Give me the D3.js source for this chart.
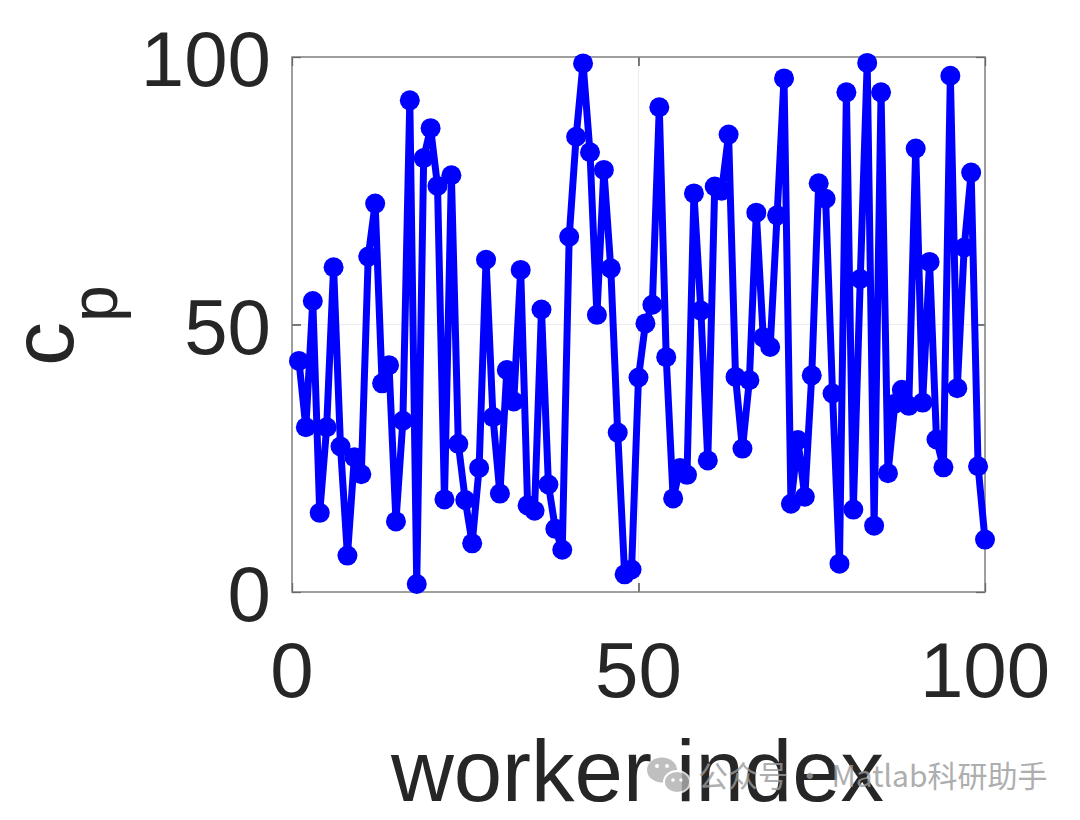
<!DOCTYPE html>
<html>
<head>
<meta charset="utf-8">
<script src="https://cdn.jsdelivr.net/npm/d3@7"></script>
<style>
  html, body { margin: 0; padding: 0; background: #ffffff; }
  svg { display: block; }
</style>
</head>
<body>
<svg id="chart" width="1080" height="820"></svg>
<script>
// ---- data ----
const workerIndex = d3.range(1, 101);
const cpValues = [
  43.2, 30.8, 54.4, 14.8, 30.8, 60.7, 27.2, 6.8, 25.2, 22.0,
  62.7, 72.6, 39.0, 42.4, 13.2, 32.0, 91.9, 1.5, 81.1, 86.7,
  75.9, 17.3, 77.9, 27.7, 17.2, 9.1, 23.2, 62.1, 32.7, 18.4,
  41.5, 35.6, 60.2, 16.2, 15.2, 52.8, 20.1, 11.8, 7.9, 66.4,
  85.1, 98.8, 82.2, 51.8, 78.9, 60.5, 29.8, 3.3, 4.2, 40.1,
  50.2, 53.7, 90.6, 43.9, 17.5, 23.2, 21.9, 74.5, 52.6, 24.6,
  75.8, 75.0, 85.5, 40.2, 26.8, 39.6, 70.9, 47.6, 45.8, 70.4,
  96.0, 16.5, 28.4, 17.8, 40.5, 76.4, 73.5, 37.1, 5.3, 93.4,
  15.4, 58.5, 98.9, 12.4, 93.4, 22.2, 35.2, 37.8, 34.8, 82.9,
  35.4, 61.7, 28.5, 23.3, 96.5, 38.1, 64.4, 78.4, 23.5, 9.8
];
const xTicks = [0, 50, 100];
const yTicks = [0, 50, 100];
const xLabel = "worker index";
const yLabelMain = "c";
const yLabelSub = "p";
const watermark = "公众号 · Matlab科研助手";

// ---- layout ----
const svg = d3.select("#chart");
const L = 292, R = 985, T = 57, B = 592;
const x = d3.scaleLinear().domain([0, 100]).range([L, R]);
const y = d3.scaleLinear().domain([0, 100]).range([B, T]);
const textColor = "#262626";
const font = "'Liberation Sans', Arial, Helvetica, sans-serif";

// faint grid
const g = svg.append("g");
g.selectAll(".gx").data(xTicks.filter(d => d > 0 && d < 100)).enter().append("line")
  .attr("x1", d => x(d)).attr("x2", d => x(d)).attr("y1", T).attr("y2", B)
  .attr("stroke", "#ececec").attr("stroke-width", 1);
g.selectAll(".gy").data(yTicks.filter(d => d > 0 && d < 100)).enter().append("line")
  .attr("y1", d => y(d)).attr("y2", d => y(d)).attr("x1", L).attr("x2", R)
  .attr("stroke", "#ececec").attr("stroke-width", 1);

// axes (ticks inside, no domain)
const xAxisB = d3.axisBottom(x).tickValues(xTicks).tickSize(-9).tickFormat("");
const xAxisT = d3.axisTop(x).tickValues(xTicks).tickSize(-9).tickFormat("");
const yAxisL = d3.axisLeft(y).tickValues(yTicks).tickSize(-9).tickFormat("");
const yAxisR = d3.axisRight(y).tickValues(yTicks).tickSize(-9).tickFormat("");
[[xAxisB, `translate(0,${B})`], [xAxisT, `translate(0,${T})`],
 [yAxisL, `translate(${L},0)`], [yAxisR, `translate(${R},0)`]].forEach(([ax, tr]) => {
  const a = svg.append("g").attr("transform", tr).call(ax);
  a.select(".domain").remove();
  a.selectAll("line").attr("stroke", textColor).attr("stroke-width", 1.2);
});

// box
svg.append("rect").attr("x", L).attr("y", T).attr("width", R - L).attr("height", B - T)
  .attr("fill", "none").attr("stroke", "#7f7f7f").attr("stroke-width", 1.5);

// tick labels
svg.selectAll(".xtl").data(xTicks).enter().append("text")
  .attr("x", d => x(d)).attr("y", 697)
  .attr("text-anchor", "middle")
  .attr("font-family", font).attr("font-size", 78).attr("fill", textColor)
  .text(d => d);
svg.selectAll(".ytl").data(yTicks).enter().append("text")
  .attr("x", 271).attr("y", d => y(d) + 29)
  .attr("text-anchor", "end")
  .attr("font-family", font).attr("font-size", 78).attr("fill", textColor)
  .text(d => d);

// data line + markers
const pts = workerIndex.map((w, i) => [w, cpValues[i]]);
const line = d3.line().x(d => x(d[0])).y(d => y(d[1]));
svg.append("path").datum(pts).attr("d", line)
  .attr("fill", "none").attr("stroke", "#0000ff").attr("stroke-width", 7)
  .attr("stroke-linejoin", "round");
svg.selectAll(".pt").data(pts).enter().append("circle")
  .attr("cx", d => x(d[0])).attr("cy", d => y(d[1])).attr("r", 10)
  .attr("fill", "#0000ff");

// x label
svg.append("text").attr("x", (L + R) / 2 - 1).attr("y", 801)
  .attr("text-anchor", "middle")
  .attr("font-family", font).attr("font-size", 87).attr("fill", textColor)
  .text(xLabel);

// y label (c_p) rotated
const yl = svg.append("text")
  .attr("transform", `translate(73,366) rotate(-90)`)
  .attr("font-family", font).attr("font-size", 88).attr("fill", textColor);
yl.append("tspan").text(yLabelMain);
yl.append("tspan").attr("font-size", 66).attr("dy", 44).text(yLabelSub);

// watermark
const wm = svg.append("g").attr("opacity", 0.8);
wm.append("ellipse").attr("cx", 662).attr("cy", 770).attr("rx", 15).attr("ry", 12.5).attr("fill", "#b0b0b0");
wm.append("circle").attr("cx", 657).attr("cy", 766).attr("r", 2).attr("fill", "#fff");
wm.append("circle").attr("cx", 667).attr("cy", 766).attr("r", 2).attr("fill", "#fff");
wm.append("ellipse").attr("cx", 677).attr("cy", 782).attr("rx", 13).attr("ry", 11).attr("fill", "#b0b0b0")
  .attr("stroke", "#fff").attr("stroke-width", 2);
wm.append("circle").attr("cx", 673).attr("cy", 780).attr("r", 1.8).attr("fill", "#fff");
wm.append("circle").attr("cx", 681).attr("cy", 780).attr("r", 1.8).attr("fill", "#fff");
wm.append("text").attr("x", 698).attr("y", 787)
  .attr("font-family", "'Noto Sans CJK SC', 'Noto Sans', sans-serif").attr("font-size", 30)
  .attr("fill", "#9a9a9a").text(watermark);
</script>
</body>
</html>
